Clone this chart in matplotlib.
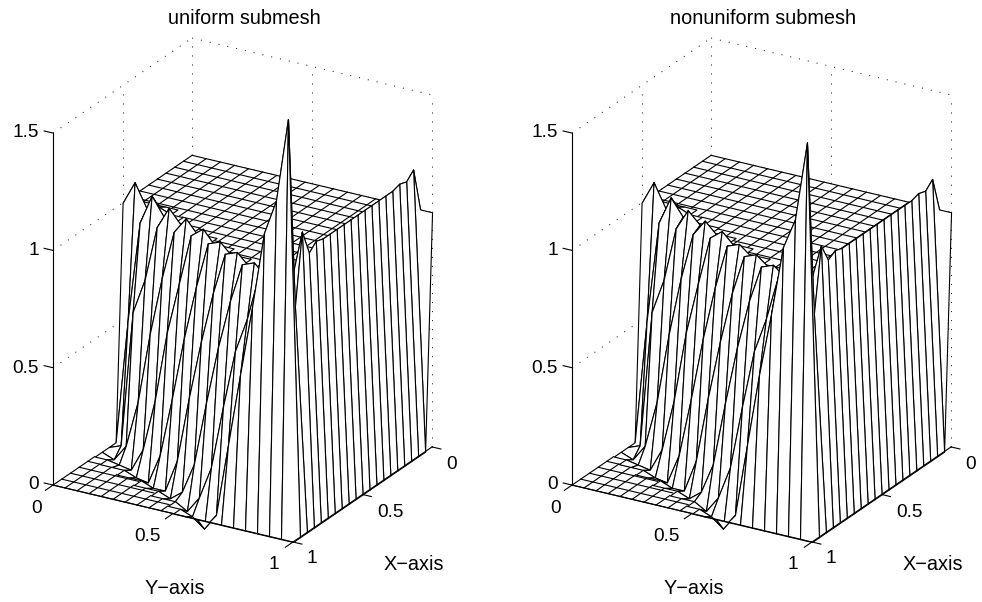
import matplotlib
matplotlib.use("Agg")
import matplotlib.pyplot as plt
import numpy as np
from mpl_toolkits.mplot3d import proj3d
from mpl_toolkits.mplot3d.art3d import Poly3DCollection

plt.rcParams['font.family'] = ['Liberation Sans', 'DejaVu Sans']
plt.rcParams['lines.scale_dashes'] = False

x_nodes = [0, .05, .1, .15, .2, .25, .3, .35, .4, .45, .5, .55, .6, .65, .7, .75, .8, .85, .9, .95, 1]
y_nodes = [0, .05, .1, .15, .2, .25, .3, .35, .4, .45, .5, .55, .6, .65, .7, .75, .8, .85, .9, .95, 1]

# grid lines seen on the flat top and the flat floor
top_x_lines = [0, .0625, .125, .1875, .25, .3125, .375, .4375, .5, .5625, .625, .6875, .75, .8125, .875, .9375]
top_y_lines = [0, .0588, .1176, .1765, .2353, .2941, .3529, .4118, .4706, .5294, .5882, .6471, .7059, .7647, .8235, .8824, .9412]
floor_x_lines = [1, .9375, .875, .8125, .75, .6875, .625, .5625]
floor_y_lines = [0, .05, .1, .15, .2, .25, .3, .35, .4, .45, .5, .55]

# rows: y index; columns: x index
z_uniform = [
 [1,1,1,1,1,1,1,1,1,1,1,0,0,0,0,0,0,0,0,0,0],
 [1,1,1,1,1,1,1,1,1,1,1.10,.53,.02,-.02,0,0,0,0,0,0,0],
 [1,1,1,1,1,1,1,1,1,1,1.0,.96,.60,.05,-.01,0,0,0,0,0,0],
 [1,1,1,1,1,1,1,1,1,1,1.02,1.087,.75,.25,-.02,0,0,0,0,0,0],
 [1,1,1,1,1,1,1,1,1,1,1,1.01,.985,.55,.08,-.02,0,0,0,0,0],
 [1,1,1,1,1,1,1,1,1,1,1,1,1.08,.80,.30,-.03,0,0,0,0,0],
 [1,1,1,1,1,1,1,1,1,1,1,1,1.02,1.01,.60,.10,-.02,0,0,0,0],
 [1,1,1,1,1,1,1,1,1,1,1,1,1,1.08,.82,.35,-.02,0,0,0,0],
 [1,1,1,1,1,1,1,1,1,1,1,1,1,1.02,1.04,.62,.12,-.02,0,0,0],
 [1,1,1,1,1,1,1,1,1,1,1,1,1,1,1.08,.85,.40,.02,0,0,0],
 [1,1,1,1,1,1,1,1,1,1,1,1,1,1,1.02,1.05,.65,.15,-.03,0,0],
 [1,1,1,1,1,1,1,1,1,1,1,1,1,1,1,1.07,.87,.42,.04,-.02,0],
 [1,1,1,1,1,1,1,1,1,1,1,1,1,1,1,1.02,1.05,.67,.18,-.06,0],
 [1,1,1,1,1,1,1,1,1,1,1,1,1,1,1,1,1.07,.88,.45,.01,0],
 [1,1,1,1,1,1,1,1,1,1,1,1,1,1,1,1,1.02,1.05,.70,.32,0],
 [1,1,1,1,1,1,1,1,1,1,1,1,1,1,1,1,1,1.07,.85,.63,0],
 [1,1,1,1,1,1,1,1,1,1,1,1,1,1,1,1,1,1.02,1.05,.93,0],
 [1,1,1,1,1,1,1,1,1,1,1,1,1,1,1,1,1,1,1.07,1.26,0],
 [1,1,1,1,1,1,1,1,1,1,1,1,1,1,1,1,1,1,1.02,1.41,0],
 [1,1.19,1.16,1.17,1.16,1.16,1.16,1.16,1.16,1.16,1.16,1.16,1.16,1.16,1.16,1.17,1.14,1.25,.95,1.77,0],
 [1,0,0,0,0,0,0,0,0,0,0,0,0,0,0,0,0,0,0,0,0],
]
z_nonuniform = [
 [1,1,1,1,1,1,1,1,1,1,1,0,0,0,0,0,0,0,0,0,0],
 [1,1,1,1,1,1,1,1,1,1,1.10,.53,.02,-.02,0,0,0,0,0,0,0],
 [1,1,1,1,1,1,1,1,1,1,1.0,.96,.60,.05,-.01,0,0,0,0,0,0],
 [1,1,1,1,1,1,1,1,1,1,1.02,1.08,.75,.25,-.02,0,0,0,0,0,0],
 [1,1,1,1,1,1,1,1,1,1,1,1.01,.98,.55,.08,-.02,0,0,0,0,0],
 [1,1,1,1,1,1,1,1,1,1,1,1,1.07,.80,.30,-.03,0,0,0,0,0],
 [1,1,1,1,1,1,1,1,1,1,1,1,1.02,1.0,.60,.10,-.02,0,0,0,0],
 [1,1,1,1,1,1,1,1,1,1,1,1,1,1.07,.82,.35,-.02,0,0,0,0],
 [1,1,1,1,1,1,1,1,1,1,1,1,1,1.02,1.03,.62,.12,-.02,0,0,0],
 [1,1,1,1,1,1,1,1,1,1,1,1,1,1,1.07,.85,.40,.02,0,0,0],
 [1,1,1,1,1,1,1,1,1,1,1,1,1,1,1.02,1.04,.65,.15,-.03,0,0],
 [1,1,1,1,1,1,1,1,1,1,1,1,1,1,1,1.06,.87,.42,.04,-.02,0],
 [1,1,1,1,1,1,1,1,1,1,1,1,1,1,1,1.02,1.04,.67,.18,-.06,0],
 [1,1,1,1,1,1,1,1,1,1,1,1,1,1,1,1,1.06,.88,.45,.01,0],
 [1,1,1,1,1,1,1,1,1,1,1,1,1,1,1,1,1.02,1.04,.70,.32,0],
 [1,1,1,1,1,1,1,1,1,1,1,1,1,1,1,1,1,1.06,.85,.63,0],
 [1,1,1,1,1,1,1,1,1,1,1,1,1,1,1,1,1,1.02,1.04,.90,0],
 [1,1,1,1,1,1,1,1,1,1,1,1,1,1,1,1,1,1,1.06,1.20,0],
 [1,1,1,1,1,1,1,1,1,1,1,1,1,1,1,1,1,1,1.02,1.33,0],
 [1,1.15,1.12,1.13,1.12,1.12,1.12,1.12,1.12,1.12,1.12,1.12,1.12,1.12,1.12,1.13,1.11,1.19,.92,1.67,0],
 [1,0,0,0,0,0,0,0,0,0,0,0,0,0,0,0,0,0,0,0,0],
]
titles = ["uniform submesh", "nonuniform submesh"]
z_ticks = [0, .5, 1, 1.5]
xy_ticks = [0, .5, 1]
tick_text = {0: "0", .5: "0.5", 1: "1", 1.5: "1.5"}

W, H = 982, 602
fig = plt.figure(figsize=(W / 100, H / 100), dpi=100, facecolor='white')
FS = 13.7
FS_LABEL = 14.3
LW = 0.8
DOT = (0, (0.75, 5.75))
AZIM = 30.5
ELEV = 23.75


def place(ax, cx, cy, s):
    ax.set_position([(cx - s / 2) / W, 1 - (cy + s / 2) / H, s / W, s / H])
    ax.apply_aspect()


def to_px(ax, x, y, z):
    vx, vy, _ = proj3d.proj_transform(x, y, z, ax.get_proj())
    p = ax.transData.transform((vx, vy))
    return p[0], H - p[1]


def fit(ax, front, height):
    cx, cy, s = 300.0, 300.0, 500.0
    for _ in range(3):
        place(ax, cx, cy, s)
        a = to_px(ax, 1, 1, 0)
        b = to_px(ax, 1, 1, 1.5)
        s *= height / abs(a[1] - b[1])
        place(ax, cx, cy, s)
        a = to_px(ax, 1, 1, 0)
        cx += front[0] - a[0]
        cy += front[1] - a[1]
    place(ax, cx, cy, s)


def panel(z_rows, title, dx):
    ax = fig.add_axes([0, 0, 1, 1], projection='3d', proj_type='ortho')
    ax.computed_zorder = False
    ax.view_init(elev=ELEV, azim=AZIM)
    ax.set_xlim(0, 1)
    ax.set_ylim(0, 1)
    ax.set_zlim(0, 1.5)
    ax.set_box_aspect((274, 278.5, 384.6))
    ax.set_axis_off()
    ax.patch.set_alpha(0)
    fit(ax, (293 + dx, 542), 352)

    def dotted(a, b):
        ax.plot([a[0], b[0]], [a[1], b[1]], [a[2], b[2]], color='#222222', lw=0.75,
                ls=DOT, zorder=0, clip_on=False)

    def solid(a, b, zo=9):
        ax.plot([a[0], b[0]], [a[1], b[1]], [a[2], b[2]], color='k', lw=0.8,
                zorder=zo, clip_on=False)

    dotted((1, 0, 1.5), (0, 0, 1.5))
    dotted((0, 0, 1.5), (0, 1, 1.5))
    dotted((0, 0, 0), (0, 0, 1.5))
    dotted((0, 1, 0), (0, 1, 1.5))
    dotted((.5, 0, 0), (.5, 0, 1.5))
    dotted((0, .5, 0), (0, .5, 1.5))
    for zt in (.5, 1):
        dotted((1, 0, zt), (0, 0, zt))
        dotted((0, 0, zt), (0, 1, zt))

    Z = np.array(z_rows, float)
    nx, ny = len(x_nodes) - 1, len(y_nodes) - 1

    def cell_corners(i, j):
        return [Z[j, i], Z[j, i + 1], Z[j + 1, i + 1], Z[j + 1, i]]

    def is_flat(i, j, level):
        return all(v == level for v in cell_corners(i, j))

    # Height-field cells painted back to front by their ground position.
    ca, sa = np.cos(np.radians(AZIM)), np.sin(np.radians(AZIM))
    cells = []
    for j in range(ny):
        for i in range(nx):
            key = ca * (x_nodes[i] + x_nodes[i + 1]) + sa * (y_nodes[j] + y_nodes[j + 1])
            cells.append((key, i, j))
    cells.sort()

    def add_cell(i, j, zo, edge):
        quad = [(x_nodes[i], y_nodes[j], Z[j, i]),
                (x_nodes[i + 1], y_nodes[j], Z[j, i + 1]),
                (x_nodes[i + 1], y_nodes[j + 1], Z[j + 1, i + 1]),
                (x_nodes[i], y_nodes[j + 1], Z[j + 1, i])]
        poly = Poly3DCollection([quad], facecolors='white',
                                edgecolors='k' if edge else 'white',
                                linewidths=LW if edge else 0.2,
                                zorder=zo, clip_on=False)
        ax.add_collection3d(poly)

    def flat_lines(xlines, ylines, level, zo):
        def inside(xv, yv):
            i = min(int(xv / .05 + 1e-9), nx - 1)
            j = min(int(yv / .05 + 1e-9), ny - 1)
            return is_flat(i, j, level)
        runs = []
        t = np.linspace(0, 1, 401)
        runs += [(np.full_like(t, xv), t) for xv in xlines]
        runs += [(t, np.full_like(t, yv)) for yv in ylines]
        for xs, ys in runs:
            mask = np.array([inside(a, b) for a, b in zip(xs, ys)])
            edges = np.flatnonzero(np.diff(np.r_[0, mask.astype(int), 0]))
            for s, e in zip(edges[::2], edges[1::2]):
                ax.plot(xs[s:e], ys[s:e], np.full(e - s, float(level)), color='k', lw=LW,
                        zorder=zo, clip_on=False)

    for k, (_, i, j) in enumerate(cells):
        if is_flat(i, j, 1):
            add_cell(i, j, 1 + k * 1e-4, False)
    flat_lines(top_x_lines, top_y_lines, 1, 1.5)
    for k, (_, i, j) in enumerate(cells):
        if is_flat(i, j, 0):
            add_cell(i, j, 1.6 + k * 1e-4, False)
    flat_lines(floor_x_lines, floor_y_lines, 0, 1.8)
    for k, (_, i, j) in enumerate(cells):
        if not is_flat(i, j, 1) and not is_flat(i, j, 0):
            add_cell(i, j, 2 + k * 1e-3, True)

    solid((1, 0, 0), (1, 0, 1.5))
    solid((1, 0, 0), (1, 1, 0))
    solid((1, 1, 0), (0, 1, 0))
    for zt in z_ticks:
        solid((1, 0, zt), (1, -.037, zt))
    for t in xy_ticks:
        solid((1, t, 0), (1.055, t, 0))
        solid((t, 1, 0), (t, 1.037, 0))

    def label(px, py, s, ha='center', fs=FS):
        fig.text((px + dx) / W, 1 - py / H, s, ha=ha, va='center', fontsize=fs, color='k')

    for zt, py in zip(z_ticks, (484.5, 368.5, 250.5, 132.5)):
        label(39, py, tick_text[zt], ha='right')
    for t, (px, py) in zip(xy_ticks, ((37, 508.5), (147, 536.5), (274, 564.5))):
        label(px, py, tick_text[t])
    for t, (px, py) in zip(xy_ticks, ((452, 464.5), (390, 512.5), (312, 558.5))):
        label(px, py, tick_text[t])
    label(175, 588.5, "Y\u2212axis", fs=FS_LABEL)
    label(414, 564.5, "X\u2212axis", fs=FS_LABEL)
    label(244, 19, title, fs=FS_LABEL)


panel(z_uniform, titles[0], 0)
panel(z_nonuniform, titles[1], 519)
fig.savefig("out.png", dpi=100, facecolor='white')
